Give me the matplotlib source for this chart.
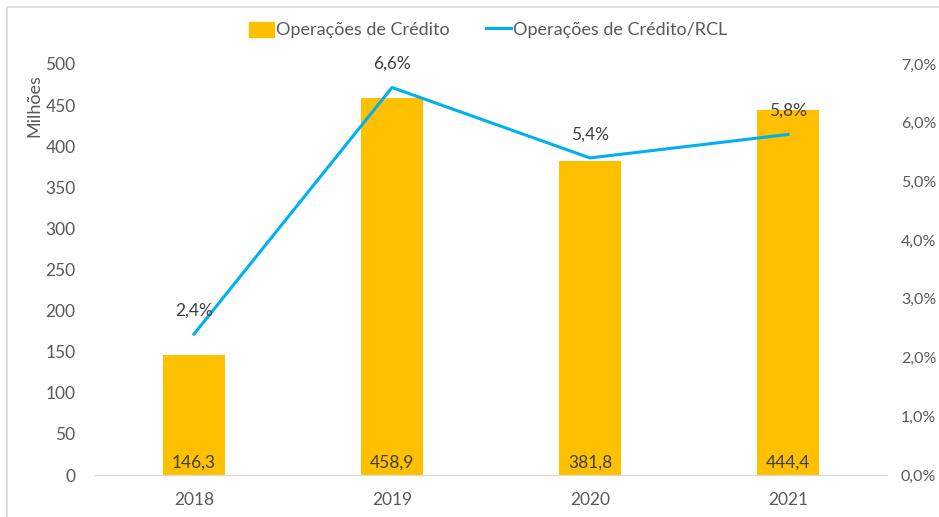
import matplotlib
matplotlib.use("Agg")
import matplotlib.pyplot as plt
from matplotlib.patches import Rectangle
from matplotlib.lines import Line2D
from matplotlib.ticker import FuncFormatter

plt.rcParams['font.family'] = ['Lato', 'DejaVu Sans']

years = ["2018", "2019", "2020", "2021"]
credito = [146.3, 458.9, 381.8, 444.4]          # milhões
credito_rcl = [2.4, 6.6, 5.4, 5.8]              # %

BAR = "#FFC000"
LINE = "#00B0F0"
TXT = "#595959"

fig = plt.figure(figsize=(9.39, 5.17), dpi=100)
W, H = 939, 517

# outer chart frame
fig.add_artist(Rectangle((7 / W, -0.1), 1.2, (H - 7) / H + 0.1, transform=fig.transFigure,
                         fill=False, edgecolor="#D9D9D9", linewidth=1.2))

ax = fig.add_axes([95 / W, (H - 475) / H, (887 - 95) / W, (475 - 64) / H])
x = range(len(years))
ax.bar(x, credito, width=0.31, color=BAR, zorder=2)
ax.set_xlim(-0.5, len(years) - 0.5)
ax.set_ylim(0, 500)
ax.set_yticks(range(0, 501, 50))
ax.set_xticks(list(x))
ax.set_xticklabels(years)
for s in ["top", "right", "left"]:
    ax.spines[s].set_visible(False)
ax.spines["bottom"].set_color("#D9D9D9")
ax.tick_params(axis="both", length=0, labelsize=12.5, colors=TXT)
ax.tick_params(axis="y", pad=14)
ax.tick_params(axis="x", pad=12)
ax.set_ylabel("Milhões", fontsize=13, color=TXT)
ax.yaxis.set_label_coords(-0.066, 0.9)

for xi, v in zip(x, credito):
    ax.text(xi, 15, f"{v:.1f}".replace(".", ","), ha="center", va="center",
            fontsize=12.5, color="#404040", zorder=4)

ax2 = ax.twinx()
ax2.plot(list(x), credito_rcl, color=LINE, linewidth=2.2, zorder=3)
ax2.set_ylim(0, 7)
ax2.set_yticks(range(0, 8))
ax2.yaxis.set_major_formatter(FuncFormatter(lambda v, p: f"{v:.1f}%".replace(".", ",")))
for s in ["top", "right", "left", "bottom"]:
    ax2.spines[s].set_visible(False)
ax2.tick_params(axis="y", length=0, labelsize=11.5, colors=TXT, pad=10)

for xi, v in zip(x, credito_rcl):
    ax2.annotate(f"{v:.1f}%".replace(".", ","), (xi, v), xytext=(0, 17),
                 textcoords="offset points", ha="center", va="center",
                 fontsize=12.5, color="#404040")

handles = [Rectangle((0, 0), 1, 1, color=BAR),
           Line2D([0], [0], color=LINE, linewidth=2.2)]
fig.legend(handles, ["Operações de Crédito", "Operações de Crédito/RCL"],
           loc="center", bbox_to_anchor=(488 / W, (H - 30) / H), ncol=2,
           frameon=False, prop={"size": 13}, labelcolor=TXT, handlelength=1.4,
           handleheight=0.9, handletextpad=0.1, columnspacing=2.0)

fig.savefig("out.png", dpi=100)
